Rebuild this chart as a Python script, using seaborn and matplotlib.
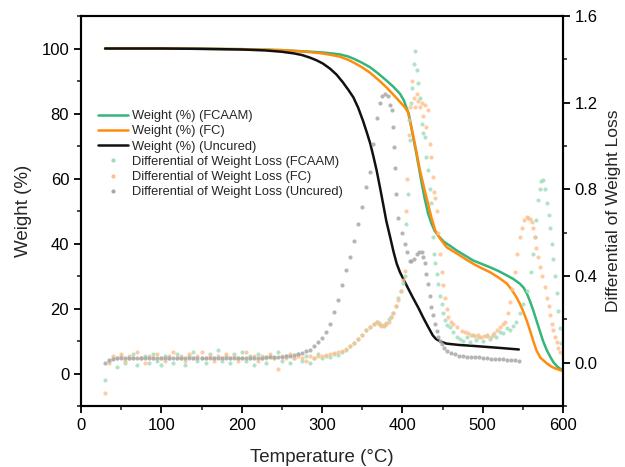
import numpy as np
import pandas as pd
import seaborn as sns
import matplotlib
matplotlib.use("Agg")
import matplotlib.pyplot as plt
from matplotlib.ticker import MultipleLocator, FormatStrFormatter
from matplotlib.lines import Line2D

# ---------------- data ----------------
# Weight (%) curves
t_w_fcaam = [30, 100, 200, 250, 280, 300, 312, 322, 332, 340, 350, 360, 370, 380, 389, 397, 402, 405, 408,
             411, 414, 417, 420, 424, 428, 432, 436, 440, 445, 452, 460, 468, 478, 488, 498, 509, 520, 530,
             538, 546, 551, 555, 559, 563, 567, 571, 575, 580, 584, 588, 593, 598]
w_fcaam = [100, 100, 99.8, 99.5, 99.1, 98.8, 98.5, 98.2, 97.6, 96.8, 95.6, 94.2, 92.3, 90.2, 88.2, 86.1, 84.0,
           81.9, 79.9, 76.0, 72.0, 68.3, 64.2, 58.7, 53.6, 49.3, 46.3, 44.0, 42.3, 40.5, 39.2, 37.8, 36.3,
           34.8, 33.8, 32.7, 31.5, 30.2, 29.1, 27.7, 26.4, 24.6, 22.2, 19.4, 16.3, 13.2, 10.1, 7.1, 5.2, 3.5,
           2.1, 1.2]

t_w_fc = [30, 100, 200, 250, 280, 300, 312, 322, 332, 340, 350, 360, 370, 380, 390, 401, 404, 407, 410, 414,
          418, 422, 427, 432, 436, 441, 447, 455, 462, 468, 478, 488, 498, 509, 520, 530, 536, 542, 546, 550,
          555, 559, 563, 567, 572, 580, 585, 590, 598]
w_fc = [100, 100, 99.8, 99.5, 99.0, 98.5, 98.0, 97.5, 96.6, 95.6, 94.2, 92.5, 90.4, 88.1, 85.5, 82.5, 81.6,
        80.4, 77.2, 72.7, 67.6, 62.5, 57.2, 52.3, 48.2, 44.0, 41.5, 38.9, 37.8, 36.9, 35.3, 33.8, 32.5, 31.2,
        29.5, 27.7, 25.8, 23.5, 21.6, 19.4, 16.2, 13.2, 10.0, 7.1, 4.8, 3.1, 2.2, 1.6, 0.9]

t_w_unc = [30, 100, 150, 200, 230, 250, 265, 275, 285, 293, 301, 310, 318, 326, 333, 339, 345, 351, 356, 360,
           364, 368, 372, 376, 380, 385, 389, 393, 397, 401, 407, 413, 420, 426, 432, 438, 442, 447, 455, 470,
           488, 520, 545]
w_unc = [100, 100, 99.9, 99.7, 99.4, 99.0, 98.5, 98.0, 97.2, 96.4, 95.4, 93.8, 92.0, 89.6, 87.2, 85.0, 81.8,
         77.8, 74.0, 70.8, 66.8, 62.5, 57.5, 52.3, 47.0, 41.8, 37.5, 33.8, 31.2, 29.2, 26.3, 23.4, 20.2, 17.2,
         14.4, 11.7, 10.6, 9.9, 9.2, 8.8, 8.5, 7.9, 7.4]

# Differential of weight loss (scatter)
t_d_fcaam = [30, 35, 40, 45, 50, 55, 60, 65, 70, 75, 80, 85, 90, 95, 100, 105, 110, 115, 120, 125, 130, 135,
             140, 145, 150, 155, 160, 165, 170, 175, 180, 185, 190, 195, 200, 205, 210, 215, 220, 225, 230,
             235, 240, 245, 250, 255, 260, 265, 270, 275, 280, 285, 290, 295, 300,
             305, 310, 315, 320, 325, 330, 335, 340, 345, 350, 355, 360, 365, 368, 371, 374, 377, 380, 383,
             386, 389, 392, 395, 398, 401, 403, 405, 407, 408, 409.5, 411, 412, 414, 416, 418, 420, 422, 424,
             426, 428, 430, 432, 434, 436, 438, 440, 441, 443, 445, 447, 449, 451, 453, 456, 459, 463, 468,
             472, 476, 480, 484, 488, 492, 496, 500, 505, 509, 513, 517, 521, 525, 530, 534, 538, 542, 546,
             550, 555, 560, 563, 565, 567, 569, 571, 573, 575, 577, 580, 582, 584, 586, 588, 590, 592, 594,
             596, 598]
d_fcaam = [-0.08, 0.01, 0.02, -0.02, 0.03, 0.00, 0.02, 0.04, -0.01, 0.02, 0.03, 0.00, 0.04, 0.01, -0.01, 0.03,
           0.02, 0.00, 0.04, 0.02, -0.01, 0.03, 0.05, 0.01, 0.02, 0.00, 0.04, 0.02, 0.06, 0.01, 0.03, 0.00,
           0.04, 0.02, 0.05, 0.01, 0.03, -0.01, 0.04, 0.02, 0.00, 0.03, 0.02, 0.05, 0.01, 0.03, 0.00, 0.02,
           0.04, 0.01, 0.03, 0.00, 0.02, 0.04, 0.02,
           0.03, 0.025, 0.04, 0.035, 0.05, 0.06, 0.075, 0.09, 0.11, 0.13, 0.15, 0.165, 0.18, 0.19, 0.185,
           0.175, 0.17, 0.185, 0.20, 0.21, 0.23, 0.26, 0.30, 0.33, 0.37, 0.40, 0.64, 0.78, 1.12, 1.03, 1.20,
           1.27, 1.38, 1.44, 1.35, 1.29, 1.22, 1.10, 1.06, 1.04, 0.95, 0.89, 0.80, 0.735, 0.58, 0.50, 0.46,
           0.41, 0.365, 0.31, 0.27, 0.23, 0.195, 0.175, 0.163, 0.14, 0.117, 0.11, 0.10, 0.12, 0.095, 0.13,
           0.105, 0.12, 0.10, 0.125, 0.11, 0.13, 0.12, 0.14, 0.135, 0.16, 0.15, 0.17, 0.19, 0.23, 0.27, 0.33,
           0.42, 0.50, 0.58, 0.66, 0.75, 0.80, 0.84, 0.845, 0.80, 0.735, 0.68, 0.62, 0.55, 0.48, 0.40, 0.32,
           0.24, 0.16, 0.09]

t_d_fc = [30, 35, 40, 45, 50, 55, 60, 65, 70, 75, 80, 85, 90, 95, 100, 105, 110, 115, 120, 125, 130, 135,
          140, 145, 150, 155, 160, 165, 170, 175, 180, 185, 190, 195, 200, 205, 210, 215, 220, 225, 230,
          235, 240, 245, 250, 255, 260, 265, 270, 275, 280, 285, 290, 295, 300,
          305, 310, 315, 320, 325, 330, 335, 340, 345, 350, 355, 360, 365, 368, 371, 374, 377, 380, 383,
          386, 389, 392, 395, 398, 401, 403, 405, 406, 408, 410, 412, 414, 416, 418, 420, 422, 424, 426,
          428, 430, 432, 434, 436, 438, 440, 441, 443, 445, 447, 449, 451, 453, 455, 457, 460, 463, 468,
          474, 478, 482, 486, 490, 494, 498, 502, 506, 510, 514, 518, 522, 525, 528, 531, 534, 537, 540,
          543, 546, 549, 552, 555, 557, 559, 561, 563, 565, 567, 569, 571, 574, 578, 580, 582, 584, 586,
          588, 590, 592, 594, 596]
d_fc = [-0.14, 0.00, 0.03, 0.02, 0.04, 0.01, 0.03, 0.02, 0.05, 0.02, 0.00, 0.03, 0.02, 0.04, 0.02, 0.01,
        0.03, 0.05, 0.02, 0.03, 0.01, 0.04, 0.02, 0.03, 0.05, 0.02, 0.03, 0.01, 0.03, 0.02, 0.04, 0.02,
        0.03, 0.01, 0.02, 0.05, 0.02, 0.03, 0.01, 0.03, 0.02, 0.04, 0.02, -0.03, 0.03, 0.02, 0.04, 0.02,
        0.03, 0.02, 0.01, 0.03, 0.02, 0.03, 0.03,
        0.035, 0.04, 0.045, 0.05, 0.055, 0.065, 0.075, 0.09, 0.11, 0.13, 0.15, 0.165, 0.18, 0.19, 0.18,
        0.17, 0.175, 0.18, 0.19, 0.21, 0.23, 0.26, 0.29, 0.33, 0.38, 0.425, 0.70, 0.85, 1.05, 1.18, 1.30,
        1.22, 1.18, 1.24, 1.21, 1.18, 1.20, 1.14, 1.19, 1.09, 1.165, 1.01, 0.95, 0.857, 0.79, 0.76, 0.70,
        0.60, 0.50, 0.42, 0.36, 0.30, 0.25, 0.21, 0.19, 0.18, 0.165, 0.148, 0.14, 0.135, 0.13, 0.125,
        0.13, 0.12, 0.125, 0.13, 0.12, 0.135, 0.15, 0.165, 0.18, 0.19, 0.23, 0.28, 0.34, 0.42, 0.50, 0.58,
        0.62, 0.66, 0.672, 0.67, 0.665, 0.65, 0.62, 0.58, 0.53, 0.49, 0.44, 0.40, 0.35, 0.30, 0.26, 0.22,
        0.18, 0.15, 0.12, 0.095, 0.07, 0.05]

t_d_unc = [30, 35, 40, 45, 50, 55, 60, 65, 70, 75, 80, 85, 90, 95, 100, 105, 110, 115, 120, 125, 130, 135,
           140, 145, 150, 155, 160, 165, 170, 175, 180, 185, 190, 195, 200, 205, 210, 215, 220, 225, 230,
           235, 240, 245, 250, 255, 260, 265, 270, 275, 280, 285, 290, 295, 300, 305, 310, 315, 320, 325,
           330, 335, 340, 345, 350, 355, 360, 364, 368, 372, 375, 378, 382, 385, 387, 389, 390, 391, 392,
           395, 399, 403, 406, 409, 411, 414, 418, 421, 424, 426, 428, 430, 432, 434, 436, 438, 441, 443,
           445, 447, 449, 452, 455, 460, 465, 470, 475, 480, 485, 490, 495, 500, 505, 510, 515, 520, 525,
           530, 535, 540, 545]
d_unc = [0.000, 0.012, 0.018, 0.020, 0.020, 0.021, 0.020, 0.021, 0.020, 0.021, 0.021, 0.020, 0.021, 0.021,
         0.021, 0.020, 0.021, 0.021, 0.022, 0.021, 0.021, 0.022, 0.021, 0.022, 0.022, 0.022, 0.022, 0.022,
         0.022, 0.022, 0.022, 0.022, 0.022, 0.022, 0.022, 0.022, 0.022, 0.023, 0.023, 0.023, 0.024, 0.025,
         0.026, 0.027, 0.028, 0.030, 0.033, 0.036, 0.040, 0.045, 0.052, 0.060, 0.075, 0.095, 0.115, 0.140,
         0.180, 0.235, 0.29, 0.36, 0.43, 0.49, 0.56, 0.64, 0.72, 0.81, 0.88, 1.01, 1.13, 1.20, 1.23, 1.24,
         1.23, 1.19, 1.165, 1.09, 0.995, 0.90, 0.78, 0.67, 0.60, 0.55, 0.51, 0.47, 0.47, 0.48, 0.50, 0.51,
         0.51, 0.49, 0.46, 0.41, 0.365, 0.31, 0.256, 0.22, 0.18, 0.145, 0.117, 0.10, 0.088, 0.07, 0.055,
         0.045, 0.038, 0.033, 0.030, 0.028, 0.026, 0.025, 0.024, 0.022, 0.020, 0.019, 0.018, 0.016, 0.015,
         0.014, 0.013, 0.012, 0.010]

# ---------------- styling ----------------
sns.set_style("ticks")
plt.rcParams["font.family"] = ["Liberation Sans", "DejaVu Sans"]

C_GREEN = "#35b57a"
C_ORANGE = "#ff8c0f"
C_BLACK = "#111111"
C_LGREEN = "#9fdcbc"
C_LORANGE = "#ffbf8c"
C_GREY = "#a8a8a8"

fig = plt.figure(figsize=(6.25, 4.67), dpi=100)
ax = fig.add_axes([0.1296, 0.1306, 0.7712, 0.8351])
ax2 = ax.twinx()

sns.lineplot(x=t_w_fcaam, y=w_fcaam, ax=ax, color=C_GREEN, lw=1.8, legend=False)
sns.lineplot(x=t_w_fc, y=w_fc, ax=ax, color=C_ORANGE, lw=1.8, legend=False)
sns.lineplot(x=t_w_unc, y=w_unc, ax=ax, color=C_BLACK, lw=1.8, legend=False)

kw = dict(s=9, linewidth=0, legend=False)
sns.scatterplot(x=t_d_fcaam, y=d_fcaam, ax=ax2, color=C_LGREEN, alpha=0.8, **kw)
sns.scatterplot(x=t_d_fc, y=d_fc, ax=ax2, color=C_LORANGE, alpha=0.8, **kw)
sns.scatterplot(x=t_d_unc, y=d_unc, ax=ax2, color=C_GREY, alpha=0.85, **kw)

ax.set_xlim(0, 600)
ax.set_ylim(-10, 110)
ax2.set_ylim(-0.2, 1.6)

ax.xaxis.set_major_locator(MultipleLocator(100))
ax.xaxis.set_minor_locator(MultipleLocator(50))
ax.yaxis.set_major_locator(MultipleLocator(20))
ax.yaxis.set_minor_locator(MultipleLocator(10))
ax2.yaxis.set_major_locator(MultipleLocator(0.4))
ax2.yaxis.set_minor_locator(MultipleLocator(0.2))
ax2.yaxis.set_major_formatter(FormatStrFormatter("%.1f"))

for a in (ax, ax2):
    for sp in a.spines.values():
        sp.set_visible(True)
        sp.set_linewidth(1.5)
        sp.set_color("black")
    a.tick_params(which="major", direction="out", length=5, width=1.3, labelsize=12, colors="black")
    a.tick_params(which="minor", direction="out", length=3, width=1.2)
ax.tick_params(top=False, right=False, which="both")
ax2.tick_params(top=False, left=False, which="both")

ax.set_xlabel("Temperature (°C)", fontsize=13.5, labelpad=12)
ax.set_ylabel("Weight (%)", fontsize=13.5, labelpad=7)
ax2.set_ylabel("Differential of Weight Loss", fontsize=12.5, labelpad=6)

handles = [
    Line2D([], [], color=C_GREEN, lw=1.8),
    Line2D([], [], color=C_ORANGE, lw=1.8),
    Line2D([], [], color=C_BLACK, lw=1.8),
    Line2D([], [], color=C_LGREEN, marker="o", ls="", ms=2),
    Line2D([], [], color=C_LORANGE, marker="o", ls="", ms=2),
    Line2D([], [], color=C_GREY, marker="o", ls="", ms=2),
]
labels = ["Weight (%) (FCAAM)", "Weight (%) (FC)", "Weight (%) (Uncured)",
          "Differential of Weight Loss (FCAAM)", "Differential of Weight Loss (FC)",
          "Differential of Weight Loss (Uncured)"]
ax2.legend(handles, labels, loc="upper left", bbox_to_anchor=(0.025, 0.772), frameon=False,
           fontsize=9.3, handlelength=2.3, labelspacing=0.25, handletextpad=0.3, borderaxespad=0)

fig.savefig("out.png", dpi=100)
